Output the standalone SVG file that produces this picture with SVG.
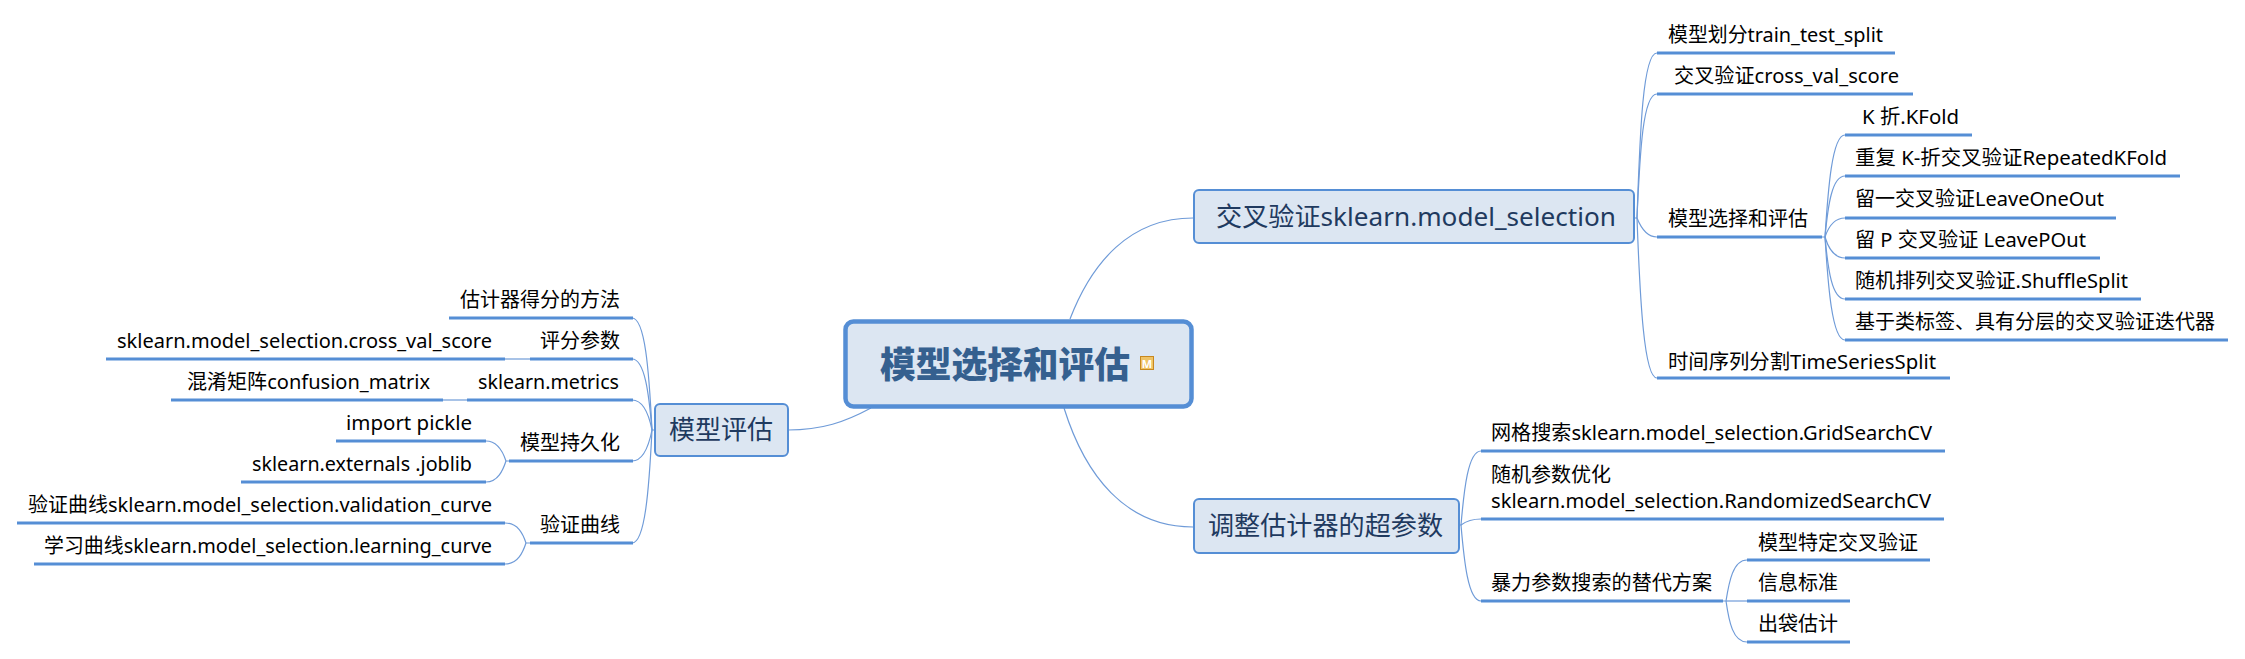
<svg xmlns="http://www.w3.org/2000/svg" width="2245" height="659" viewBox="0 0 2245 659">
<style>
text{font-family:"Noto Sans","Noto Sans CJK SC",sans-serif;font-size:20px;fill:#000}
.box{fill:#dce6f2;stroke:#558ed5;stroke-width:2}
.t{font-size:26px;fill:#1f3a5f}
.u{stroke:#558ed5;stroke-width:3;fill:none}
.c{stroke:#6f9bd8;stroke-width:1.2;fill:none}
</style>
<rect width="2245" height="659" fill="#fff"/>
<g id="connectors">
<path class="c" d="M1070,319C1092,262 1130,218 1193,218"/>
<path class="c" d="M1064,408C1085,475 1125,527 1193,527"/>
<path class="c" d="M871,408C845,422 822,430 788,430"/>
<path class="c" d="M1634,218H1637C1640,130 1643,53 1657,53"/>
<path class="c" d="M1637,218C1640,150 1643,94 1657,94"/>
<path class="c" d="M1637,218C1641,228 1647,237 1657,237"/>
<path class="c" d="M1637,218C1640,300 1644,378 1657,378"/>
<path class="c" d="M1822,237H1825C1828,190 1832,135 1845,135"/>
<path class="c" d="M1825,237C1828,205 1832,176 1845,176"/>
<path class="c" d="M1825,237C1828,228 1834,218 1845,218"/>
<path class="c" d="M1825,237C1828,247 1834,258 1845,258"/>
<path class="c" d="M1825,237C1828,270 1832,299 1845,299"/>
<path class="c" d="M1825,237C1828,285 1832,340 1845,340"/>
<path class="c" d="M1458,525H1461C1464,490 1468,451 1481,451"/>
<path class="c" d="M1461,525C1465,522 1470,519 1481,519"/>
<path class="c" d="M1461,525C1464,560 1468,601 1481,601"/>
<path class="c" d="M1723,601H1726C1729,582 1733,560 1747,560"/>
<path class="c" d="M1726,601H1747"/>
<path class="c" d="M1726,601C1729,622 1733,642 1747,642"/>
<path class="c" d="M654,430H652C649,370 645,318 632,318"/>
<path class="c" d="M652,430C649,395 645,359 632,359"/>
<path class="c" d="M652,430C649,415 643,400 632,400"/>
<path class="c" d="M652,430C649,445 643,461 632,461"/>
<path class="c" d="M652,430C649,490 645,543 632,543"/>
<path class="c" d="M530,359H505"/>
<path class="c" d="M467,400H443"/>
<path class="c" d="M509,461H506C503,452 498,441 486,441"/>
<path class="c" d="M506,461C503,470 498,482 486,482"/>
<path class="c" d="M530,543H526C523,534 518,523 505,523"/>
<path class="c" d="M526,543C523,552 518,564 505,564"/>
</g>
<g id="root">
<rect x="845.500" y="321.500" width="346" height="85" rx="8" fill="#dce6f2" stroke="#558ed5" stroke-width="4.500"/>
<text x="880" y="378" style="font-size:36px;font-weight:900;fill:#35608f" textLength="250" lengthAdjust="spacingAndGlyphs">模型选择和评估</text>
<rect x="1140.500" y="356.500" width="13" height="13" fill="#efc366" stroke="#c8881f"/>
<text x="1147" y="367.500" text-anchor="middle" style="font-size:11px;fill:#fff;font-weight:700">M</text>
</g>
<g id="n-cv"><rect class="box" x="1194" y="190" width="440" height="53" rx="5"/><text class="t" x="1216" y="226" textLength="400" lengthAdjust="spacingAndGlyphs">交叉验证sklearn.model_selection</text></g>
<g id="n-tune"><rect class="box" x="1194" y="499" width="265" height="54" rx="5"/><text class="t" x="1208" y="535" textLength="235" lengthAdjust="spacingAndGlyphs">调整估计器的超参数</text></g>
<g id="n-eval"><rect class="box" x="655" y="404" width="133" height="52" rx="5"/><text class="t" x="669" y="439" textLength="104" lengthAdjust="spacingAndGlyphs">模型评估</text></g>
<g id="n-split"><path class="u" d="M1657,53H1895"/><text x="1668" y="42" textLength="215" lengthAdjust="spacingAndGlyphs">模型划分train_test_split</text></g>
<g id="n-cvs"><path class="u" d="M1657,94H1913"/><text x="1674" y="83" textLength="225" lengthAdjust="spacingAndGlyphs">交叉验证cross_val_score</text></g>
<g id="n-ms"><path class="u" d="M1657,237H1822"/><text x="1668" y="226" textLength="140" lengthAdjust="spacingAndGlyphs">模型选择和评估</text></g>
<g id="n-ts"><path class="u" d="M1657,378H1950"/><text x="1668" y="369" textLength="268" lengthAdjust="spacingAndGlyphs">时间序列分割TimeSeriesSplit</text></g>
<g id="n-kf"><path class="u" d="M1845,135H1972"/><text x="1862" y="124" textLength="97" lengthAdjust="spacingAndGlyphs">K 折.KFold</text></g>
<g id="n-rkf"><path class="u" d="M1845,176H2180"/><text x="1855" y="165" textLength="312" lengthAdjust="spacingAndGlyphs">重复 K-折交叉验证RepeatedKFold</text></g>
<g id="n-loo"><path class="u" d="M1845,218H2116"/><text x="1855" y="206" textLength="249" lengthAdjust="spacingAndGlyphs">留一交叉验证LeaveOneOut</text></g>
<g id="n-lpo"><path class="u" d="M1845,258H2100"/><text x="1855" y="247" textLength="231" lengthAdjust="spacingAndGlyphs">留 P 交叉验证 LeavePOut</text></g>
<g id="n-ss"><path class="u" d="M1845,299H2141"/><text x="1855" y="288" textLength="273" lengthAdjust="spacingAndGlyphs">随机排列交叉验证.ShuffleSplit</text></g>
<g id="n-strat"><path class="u" d="M1845,340H2228"/><text x="1855" y="329" textLength="360" lengthAdjust="spacingAndGlyphs">基于类标签、具有分层的交叉验证迭代器</text></g>
<g id="n-grid"><path class="u" d="M1481,451H1945"/><text x="1491" y="440" textLength="441" lengthAdjust="spacingAndGlyphs">网格搜索sklearn.model_selection.GridSearchCV</text></g>
<g id="n-rand"><path class="u" d="M1481,519H1944"/><text x="1491" y="482" textLength="120" lengthAdjust="spacingAndGlyphs">随机参数优化</text><text x="1491" y="508" textLength="440" lengthAdjust="spacingAndGlyphs">sklearn.model_selection.RandomizedSearchCV</text></g>
<g id="n-brute"><path class="u" d="M1481,601H1723"/><text x="1491" y="590" textLength="221" lengthAdjust="spacingAndGlyphs">暴力参数搜索的替代方案</text></g>
<g id="n-spec"><path class="u" d="M1747,560H1930"/><text x="1758" y="550" textLength="160" lengthAdjust="spacingAndGlyphs">模型特定交叉验证</text></g>
<g id="n-info"><path class="u" d="M1747,601H1850"/><text x="1758" y="590" textLength="80" lengthAdjust="spacingAndGlyphs">信息标准</text></g>
<g id="n-oob"><path class="u" d="M1747,642H1850"/><text x="1758" y="631" textLength="80" lengthAdjust="spacingAndGlyphs">出袋估计</text></g>
<g id="n-est"><path class="u" d="M449,318H633"/><text x="460" y="307" textLength="160" lengthAdjust="spacingAndGlyphs">估计器得分的方法</text></g>
<g id="n-score"><path class="u" d="M530,359H633"/><text x="540" y="348" textLength="80" lengthAdjust="spacingAndGlyphs">评分参数</text></g>
<g id="n-cvscore"><path class="u" d="M106,359H505"/><text x="117" y="348" textLength="375" lengthAdjust="spacingAndGlyphs">sklearn.model_selection.cross_val_score</text></g>
<g id="n-metrics"><path class="u" d="M467,400H633"/><text x="478" y="389" textLength="141" lengthAdjust="spacingAndGlyphs">sklearn.metrics</text></g>
<g id="n-cm"><path class="u" d="M171,400H443"/><text x="187" y="389" textLength="243" lengthAdjust="spacingAndGlyphs">混淆矩阵confusion_matrix</text></g>
<g id="n-persist"><path class="u" d="M509,461H633"/><text x="520" y="450" textLength="100" lengthAdjust="spacingAndGlyphs">模型持久化</text></g>
<g id="n-pickle"><path class="u" d="M336,441H486"/><text x="346" y="430" textLength="126" lengthAdjust="spacingAndGlyphs">import pickle</text></g>
<g id="n-joblib"><path class="u" d="M241,482H486"/><text x="252" y="471" textLength="220" lengthAdjust="spacingAndGlyphs">sklearn.externals .joblib</text></g>
<g id="n-vc"><path class="u" d="M530,543H633"/><text x="540" y="532" textLength="80" lengthAdjust="spacingAndGlyphs">验证曲线</text></g>
<g id="n-val"><path class="u" d="M17,523H505"/><text x="28" y="512" textLength="464" lengthAdjust="spacingAndGlyphs">验证曲线sklearn.model_selection.validation_curve</text></g>
<g id="n-learn"><path class="u" d="M34,564H505"/><text x="44" y="553" textLength="448" lengthAdjust="spacingAndGlyphs">学习曲线sklearn.model_selection.learning_curve</text></g>
</svg>
